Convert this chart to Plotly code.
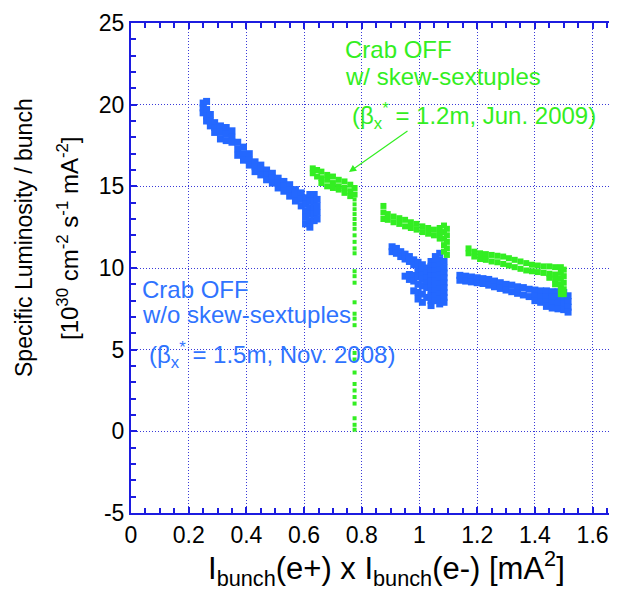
import plotly.graph_objects as go

# ---------------- data ----------------
# Each entry: (x, [y values observed in that column])
# Nov. 2008, beta_x* = 1.5 m, crab OFF w/o skew-sextuples (blue)
nov_seg1 = [
    (0.250, [20.1, 19.8, 19.5]), (0.262, [20.2, 19.7, 19.3, 19.0]),
    (0.275, [19.4, 19.0, 18.7]), (0.29, [18.9, 18.6, 18.3]),
    (0.31, [18.7, 18.3, 17.9]), (0.33, [18.6, 18.2, 17.8]),
    (0.35, [18.4, 18.0, 17.7]), (0.37, [17.7, 17.3, 16.9]),
    (0.39, [17.4, 17.0, 16.6]), (0.41, [17.0, 16.6, 16.3]),
    (0.43, [16.5, 16.2, 15.9]), (0.45, [16.3, 16.0, 15.7]),
    (0.47, [16.0, 15.7, 15.4]), (0.49, [15.8, 15.5, 15.2]),
    (0.51, [15.5, 15.2, 14.9]), (0.53, [15.3, 15.0, 14.7]),
    (0.55, [15.1, 14.8, 14.4]), (0.57, [14.8, 14.5, 14.1]),
    (0.59, [14.6, 14.2, 13.8]), (0.605, [14.3, 13.9, 13.5, 13.1, 12.7]),
    (0.62, [14.5, 14.1, 13.7, 13.3, 12.9, 12.5]),
    (0.635, [14.5, 14.1, 13.7, 13.3, 12.9]), (0.645, [14.2, 13.8, 13.4, 13.0]),
]
nov_seg2 = [
    (0.905, [11.3, 11.0]), (0.92, [11.2, 10.9]), (0.935, [11.0, 10.7]),
    (0.95, [10.85, 10.55, 9.5]), (0.965, [10.7, 10.4, 9.6, 9.3]),
    (0.98, [10.5, 10.2, 9.55, 9.2, 8.6]),
    (0.995, [10.35, 10.05, 9.75, 9.45, 9.0, 8.5, 8.1]),
    (1.01, [10.2, 9.9, 9.6, 9.3, 8.9, 8.4, 7.9]),
    (1.025, [10.0, 9.7, 9.4, 9.1, 8.8, 8.2]),
    (1.04, [10.4, 10.1, 9.8, 9.5, 9.2, 8.9, 8.6, 8.3, 8.0, 7.7]),
    (1.055, [10.7, 10.4, 10.1, 9.8, 9.5, 9.2, 8.9, 8.6, 8.3, 8.0]),
    (1.07, [10.9, 10.5, 10.2, 9.9, 9.6, 9.3, 9.0, 8.7, 8.4, 8.1, 7.8]),
    (1.085, [10.4, 10.0, 9.7, 9.4, 9.1, 8.8, 8.5, 8.2, 7.9]),
]
nov_seg3 = [
    (1.14, [9.55, 9.25]), (1.16, [9.5, 9.2]), (1.18, [9.45, 9.15]),
    (1.20, [9.4, 9.1]), (1.22, [9.35, 9.05]), (1.24, [9.3, 8.95]),
    (1.26, [9.2, 8.85]), (1.28, [9.1, 8.75]), (1.30, [9.0, 8.65]),
    (1.32, [8.95, 8.55]), (1.34, [8.85, 8.45]), (1.36, [8.8, 8.35]),
    (1.38, [8.7, 8.25]), (1.40, [8.65, 8.3, 8.0]), (1.42, [8.6, 8.25, 7.9]),
    (1.44, [8.6, 8.25, 7.9, 7.65]), (1.46, [8.55, 8.2, 7.85, 7.55]),
    (1.48, [8.55, 8.2, 7.85, 7.5]), (1.50, [8.5, 8.15, 7.8, 7.45]),
    (1.515, [8.3, 7.95, 7.6, 7.3]),
]

# Jun. 2009, beta_x* = 1.2 m, crab OFF w/ skew-sextuples (green)
jun_seg1 = [
    (0.63, [16.1, 15.8]), (0.645, [16.0, 15.6]), (0.66, [15.9, 15.5, 15.2]),
    (0.68, [15.7, 15.4, 15.0]), (0.70, [15.6, 15.2, 14.9]),
    (0.72, [15.4, 15.0, 14.8]), (0.74, [15.3, 14.9, 14.6]),
    (0.76, [15.1, 14.7, 14.4]), (0.775, [14.9, 14.5]),
]
jun_drop_x = 0.775
jun_drop_y = [14.2, 13.9, 13.6, 13.3, 13.0, 12.7, 12.4, 12.0, 11.6, 11.2, 10.9,
              9.8, 9.5, 9.1, 7.9, 7.2, 6.9, 6.5, 4.8, 4.4, 3.6,
              2.9, 2.5, 2.1, 1.7, 0.8, 0.4, 0.1]
jun_seg2 = [
    (0.875, [13.8, 13.4, 13.0]), (0.89, [13.3, 12.95]), (0.91, [13.15, 12.8]),
    (0.93, [13.05, 12.7]), (0.95, [12.95, 12.55]), (0.97, [12.8, 12.45]),
    (0.99, [12.7, 12.35]), (1.01, [12.55, 12.2]), (1.03, [12.45, 12.1]),
    (1.05, [12.35, 12.0]), (1.07, [12.45, 12.1, 11.8]),
    (1.085, [12.6, 12.2, 11.8, 11.4, 11.0]),
    (1.095, [12.4, 12.0, 11.6, 11.2, 10.8]),
]
jun_seg3 = [
    (1.17, [11.2, 10.9]), (1.19, [11.0, 10.7]), (1.21, [10.9, 10.55]),
    (1.23, [10.85, 10.5]), (1.25, [10.8, 10.4]), (1.27, [10.75, 10.35]),
    (1.29, [10.7, 10.25]), (1.31, [10.6, 10.15]), (1.33, [10.5, 10.05]),
    (1.35, [10.4, 9.95]), (1.37, [10.3, 9.85]), (1.39, [10.2, 9.8]),
    (1.41, [10.15, 9.75]), (1.43, [10.1, 9.7]), (1.45, [10.1, 9.65, 9.4]),
    (1.47, [10.05, 9.6, 9.3, 9.0]), (1.49, [10.05, 9.7, 9.35, 9.0, 8.7, 8.4]),
    (1.50, [9.9, 9.5, 9.1, 8.7, 8.4]),
]

x_ticks = [0, 0.2, 0.4, 0.6, 0.8, 1.0, 1.2, 1.4, 1.6]
x_tick_text = ["0", "0.2", "0.4", "0.6", "0.8", "1", "1.2", "1.4", "1.6"]
y_ticks = [-5, 0, 5, 10, 15, 20, 25]
y_tick_text = ["-5", "0", "5", "10", "15", "20", "25"]

BLUE = "#2468ff"
GREEN = "#33ee22"
AXIS = "#1c1ce0"
GRID = "#3a3ad8"
FONT = "Liberation Sans, Arial, sans-serif"

# plot area in page pixels (figure is drawn 8px in from the page corner)
PL, PT, PW, PH = 131, 23, 486, 490


def flatten(columns):
    xs, ys = [], []
    for x, yl in columns:
        for y in yl:
            xs.append(x)
            ys.append(y)
    return xs, ys


def px(xp):
    return (xp - PL) / PW


def py(yp):
    return (PT + PH - yp) / PH


fig = go.Figure()

for seg in (nov_seg1, nov_seg2, nov_seg3):
    xs, ys = flatten(seg)
    fig.add_trace(go.Scatter(x=xs, y=ys, mode="markers",
                             marker=dict(symbol="square", size=7, color=BLUE),
                             hoverinfo="skip", showlegend=False))

for seg in (jun_seg1, jun_seg2, jun_seg3):
    xs, ys = flatten(seg)
    fig.add_trace(go.Scatter(x=xs, y=ys, mode="markers",
                             marker=dict(symbol="square", size=6, color=GREEN),
                             hoverinfo="skip", showlegend=False))

fig.add_trace(go.Scatter(x=[jun_drop_x] * len(jun_drop_y), y=jun_drop_y, mode="markers",
                         marker=dict(symbol="square", size=4, color=GREEN),
                         hoverinfo="skip", showlegend=False))

fig.update_layout(
    width=609, height=587,
    margin=dict(l=PL - 8, r=0, t=PT - 8, b=587 - (PT - 8) - PH, autoexpand=False),
    paper_bgcolor="white", plot_bgcolor="white",
    font=dict(family=FONT, color="black", size=22),
)

fig.update_xaxes(
    range=[0, 1.6846], tickvals=x_ticks, ticktext=x_tick_text,
    showline=True, linecolor=AXIS, linewidth=2, mirror="ticks",
    ticks="inside", ticklen=6, tickcolor=AXIS, tickwidth=1.5,
    showgrid=True, gridcolor=GRID, gridwidth=1, griddash="1px,2px",
    zeroline=False, automargin=False,
    minor=dict(dtick=0.05, ticks="inside", ticklen=5, tickcolor=AXIS, showgrid=False),
    tickfont=dict(size=23, color="black", family=FONT),
)
fig.update_yaxes(
    range=[-5, 25], tickvals=y_ticks, ticktext=y_tick_text,
    showline=True, linecolor=AXIS, linewidth=2, mirror=False,
    ticks="inside", ticklen=6, tickcolor=AXIS, tickwidth=1.5,
    showgrid=True, gridcolor=GRID, gridwidth=1, griddash="1px,2px",
    zeroline=False, automargin=False,
    minor=dict(dtick=1, ticks="inside", ticklen=5, tickcolor=AXIS, showgrid=False),
    tickfont=dict(size=23, color="black", family=FONT),
)

# Axis titles
fig.add_annotation(xref="paper", yref="paper", x=px(386), y=py(568),
                   xanchor="center", yanchor="middle", showarrow=False,
                   text="I<sub>bunch</sub>(e+) x I<sub>bunch</sub>(e-) [mA<sup>2</sup>]",
                   font=dict(size=31, color="black", family=FONT))
fig.add_annotation(xref="paper", yref="paper", x=px(24), y=py(238),
                   xanchor="center", yanchor="middle", showarrow=False, textangle=-90,
                   text="Specific Luminosity / bunch",
                   font=dict(size=23, color="black", family=FONT))
fig.add_annotation(xref="paper", yref="paper", x=px(68), y=py(238),
                   xanchor="center", yanchor="middle", showarrow=False, textangle=-90,
                   text="[10<sup>30</sup> cm<sup>-2</sup> s<sup>-1</sup> mA<sup>-2</sup>]",
                   font=dict(size=24, color="black", family=FONT))

# Green labels
for txt, xx, yy in [("Crab OFF", 0.735, 23.35),
                    ("w/ skew-sextuples", 0.735, 21.7),
                    ("(β<sub>x</sub><sup>*</sup> = 1.2m, Jun. 2009)", 0.759, 19.3)]:
    fig.add_annotation(x=xx, y=yy, xref="x", yref="y", xanchor="left", yanchor="middle",
                       showarrow=False, text=txt,
                       font=dict(size=24, color=GREEN, family=FONT))

# Blue labels
for txt, xx, yy in [("Crab OFF", 0.031, 8.7),
                    ("w/o skew-sextuples", 0.031, 7.15),
                    ("(β<sub>x</sub><sup>*</sup> = 1.5m, Nov. 2008)", 0.055, 4.7)]:
    fig.add_annotation(x=xx, y=yy, xref="x", yref="y", xanchor="left", yanchor="middle",
                       showarrow=False, text=txt,
                       font=dict(size=24, color="#2f73ff", family=FONT))

# Arrow
fig.add_annotation(x=0.7556, y=15.88, ax=0.9636, ay=18.45, xref="x", yref="y",
                   axref="x", ayref="y", text="", showarrow=True,
                   arrowhead=2, arrowsize=1.2, arrowwidth=1.2, arrowcolor=GREEN)

fig.write_html("out.html")
